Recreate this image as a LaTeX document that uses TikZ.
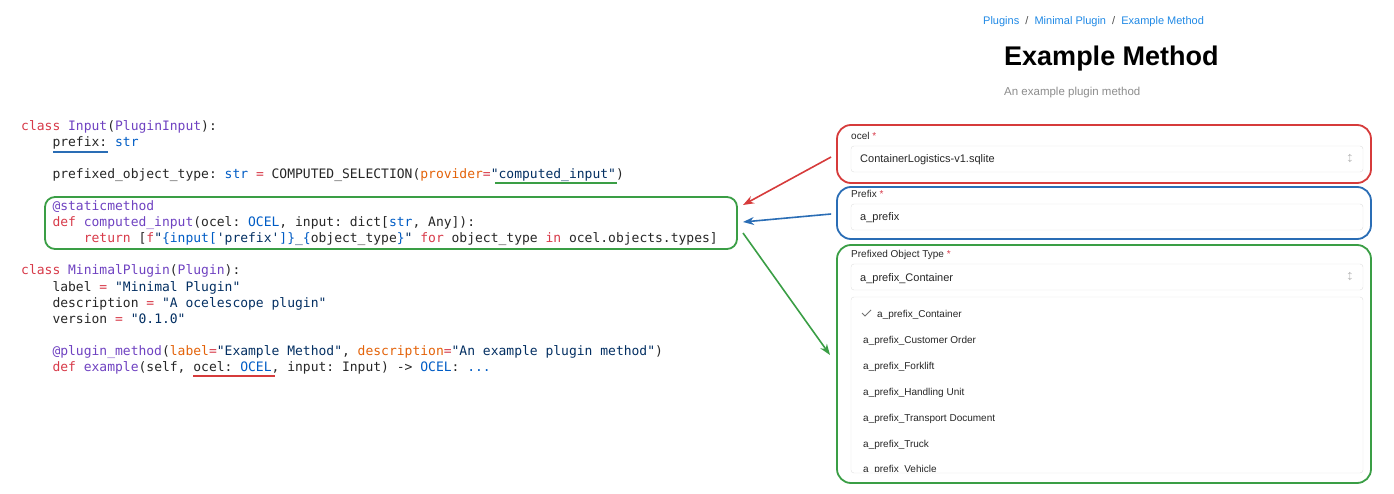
\documentclass[tikz,border=0pt]{standalone}
\usepackage{fontspec}
\setmainfont{Liberation Sans}
\setmonofont{DejaVu Sans Mono}
\usetikzlibrary{arrows.meta,positioning}
\definecolor{kwred}{HTML}{D73A49}
\definecolor{fnpurple}{HTML}{6F42C1}
\definecolor{bltype}{HTML}{005CC5}
\definecolor{argorange}{HTML}{E36209}
\definecolor{strnavy}{HTML}{032F62}
\definecolor{linkblue}{HTML}{1E88E5}
\definecolor{boxred}{HTML}{D63B3B}
\definecolor{boxblue}{HTML}{2A6DB5}
\definecolor{boxgreen}{HTML}{3A9E45}
\newcommand{\kw}[1]{\textcolor{kwred}{#1}}
\newcommand{\fn}[1]{\textcolor{fnpurple}{#1}}
\newcommand{\bt}[1]{\textcolor{bltype}{#1}}
\newcommand{\ag}[1]{\textcolor{argorange}{#1}}
\newcommand{\sv}[1]{\textcolor{strnavy}{#1}}
\tikzset{
  code/.style={anchor=base west,inner sep=0,font=\ttfamily\fontsize{13}{13}\selectfont,text=black!85},
  ui/.style={anchor=base west,inner sep=0,font=\fontsize{11}{11}\selectfont,text=black!85},
  frame/.style={draw=#1,line width=1.8pt,rounded corners=14pt,rectangle},
  field/.style={draw=black!12,rounded corners=3pt,fill=white,rectangle},
  link/.style={-{Stealth[length=11pt,width=8pt]},line width=1.6pt,draw=#1},
}
\begin{document}
\begin{tikzpicture}[x=1pt,y=-1pt]
\useasboundingbox (0,0) rectangle (1394,494);
% code
\node[code] (l1) at (21,131) {\kw{class} \fn{Input}(\fn{PluginInput}):};
\node[code] (l2) at (21,147) {\ \ \ \ prefix: \bt{str}};
\node[code] (l3) at (21,179) {\ \ \ \ prefixed\_object\_type: \bt{str} \kw{=} COMPUTED\_SELECTION(\ag{provider}\kw{=}\sv{"computed\_input"})};
\node[code] (l4) at (21,211) {\ \ \ \ \fn{@staticmethod}};
\node[code] (l5) at (21,227) {\ \ \ \ \kw{def} \fn{computed\_input}(ocel: \bt{OCEL}, input: dict[\bt{str}, Any]):};
\node[code] (l6) at (21,243) {\ \ \ \ \ \ \ \ \kw{return} [\kw{f}\sv{"}\bt{\{input[}\sv{'prefix'}\bt{]\}}\sv{\_}\bt{\{}object\_type\bt{\}}\sv{"} \kw{for} object\_type \kw{in} ocel.objects.types]};
\node[code] (l7) at (21,275) {\kw{class} \fn{MinimalPlugin}(\fn{Plugin}):};
\node[code] (l8) at (21,291) {\ \ \ \ label \kw{=} \sv{"Minimal Plugin"}};
\node[code] (l9) at (21,307) {\ \ \ \ description \kw{=} \sv{"A ocelescope plugin"}};
\node[code] (l10) at (21,323) {\ \ \ \ version \kw{=} \sv{"0.1.0"}};
\node[code] (l11) at (21,355) {\ \ \ \ \fn{@plugin\_method}(\ag{label}\kw{=}\sv{"Example Method"}, \ag{description}\kw{=}\sv{"An example plugin method"})};
\node[code] (l12) at (21,371) {\ \ \ \ \kw{def} \fn{example}(self, ocel: \bt{OCEL}, input: Input) -> \bt{OCEL}: \bt{...}};
% underlines and code frame
\draw[boxblue,line width=2pt] (53,152) -- (108,152);
\draw[boxgreen,line width=2pt] (495,183) -- (617,183);
\draw[boxred,line width=2pt] (193,376) -- (275,376);
\node[frame=boxgreen,rounded corners=10pt,minimum width=692pt,minimum height=52pt] (codebox) at (391,223) {};
% page header
\node[ui,text=linkblue] (crumbs) at (983,25) {Plugins\ \ \textcolor{black!70}{/}\ \ Minimal Plugin\ \ \textcolor{black!70}{/}\ \ Example Method};
\node[ui,font=\bfseries\fontsize{27}{27}\selectfont,text=black] (title) at (1004,66) {Example Method};
\node[ui,font=\fontsize{11.5}{11.5}\selectfont,text=black!45] (subtitle) at (1004,96) {An example plugin method};
% form frames
\node[frame=boxred,minimum width=534pt,minimum height=58pt] (ocelbox) at (1104,154) {};
\node[frame=boxblue,minimum width=534pt,minimum height=52pt] (prefixbox) at (1104,213) {};
\node[frame=boxgreen,minimum width=534pt,minimum height=238pt] (typebox) at (1104,364) {};
% fields
\node[ui,font=\fontsize{10}{10}\selectfont] (ocellabel) at (851,140) {ocel \textcolor{kwred}{*}};
\node[field,minimum width=512pt,minimum height=26pt] (ocelfield) at (1107,159) {};
\node[ui] (ocelval) at (860,163) {ContainerLogistics-v1.sqlite};
\node[ui,font=\fontsize{10}{10}\selectfont] (prefixlabel) at (851,198) {Prefix \textcolor{kwred}{*}};
\node[field,minimum width=512pt,minimum height=26pt] (prefixfield) at (1107,217) {};
\node[ui] (prefixval) at (860,221) {a\_prefix};
\node[ui,font=\fontsize{10}{10}\selectfont] (typelabel) at (851,258) {Prefixed Object Type \textcolor{kwred}{*}};
\node[field,minimum width=512pt,minimum height=26pt] (typefield) at (1107,277) {};
\node[ui] (typeval) at (860,281) {a\_prefix\_Container};
\foreach \n/\y in {ocelfield/159,typefield/277}
  \node[text=black!45,font=\fontsize{8}{8}\selectfont,inner sep=0] at (1350,\y) {$\updownarrow$};
% dropdown list
\node[field,minimum width=512pt,minimum height=176pt] (typelist) at (1107,385) {};
\begin{scope}
\clip (851,298) rectangle (1363,471);
\draw[black!55,line width=1pt] (862,313) -- (865,316) -- (871,310);
\foreach \item/\y in {Container/317,Customer Order/343,Forklift/369,Handling Unit/395,Transport Document/421,Truck/447,Vehicle/472}
  \node[ui,font=\fontsize{10}{10}\selectfont] at (\ifnum\y=317 877\else 863\fi,\y) {a\_prefix\_\item};
\end{scope}
% connectors
\coordinate (redend) at (743,205);
\coordinate (blueend) at (743,222);
\coordinate (greenstart) at (743,233);
\coordinate (greenend) at (830,355);
\draw[link=boxred] (ocelbox.west) ++(-5,3) -- (redend);
\draw[link=boxblue] (prefixbox.west) ++(-5,1) -- (blueend);
\draw[link=boxgreen] (greenstart) -- (greenend);
\end{tikzpicture}
\end{document}
